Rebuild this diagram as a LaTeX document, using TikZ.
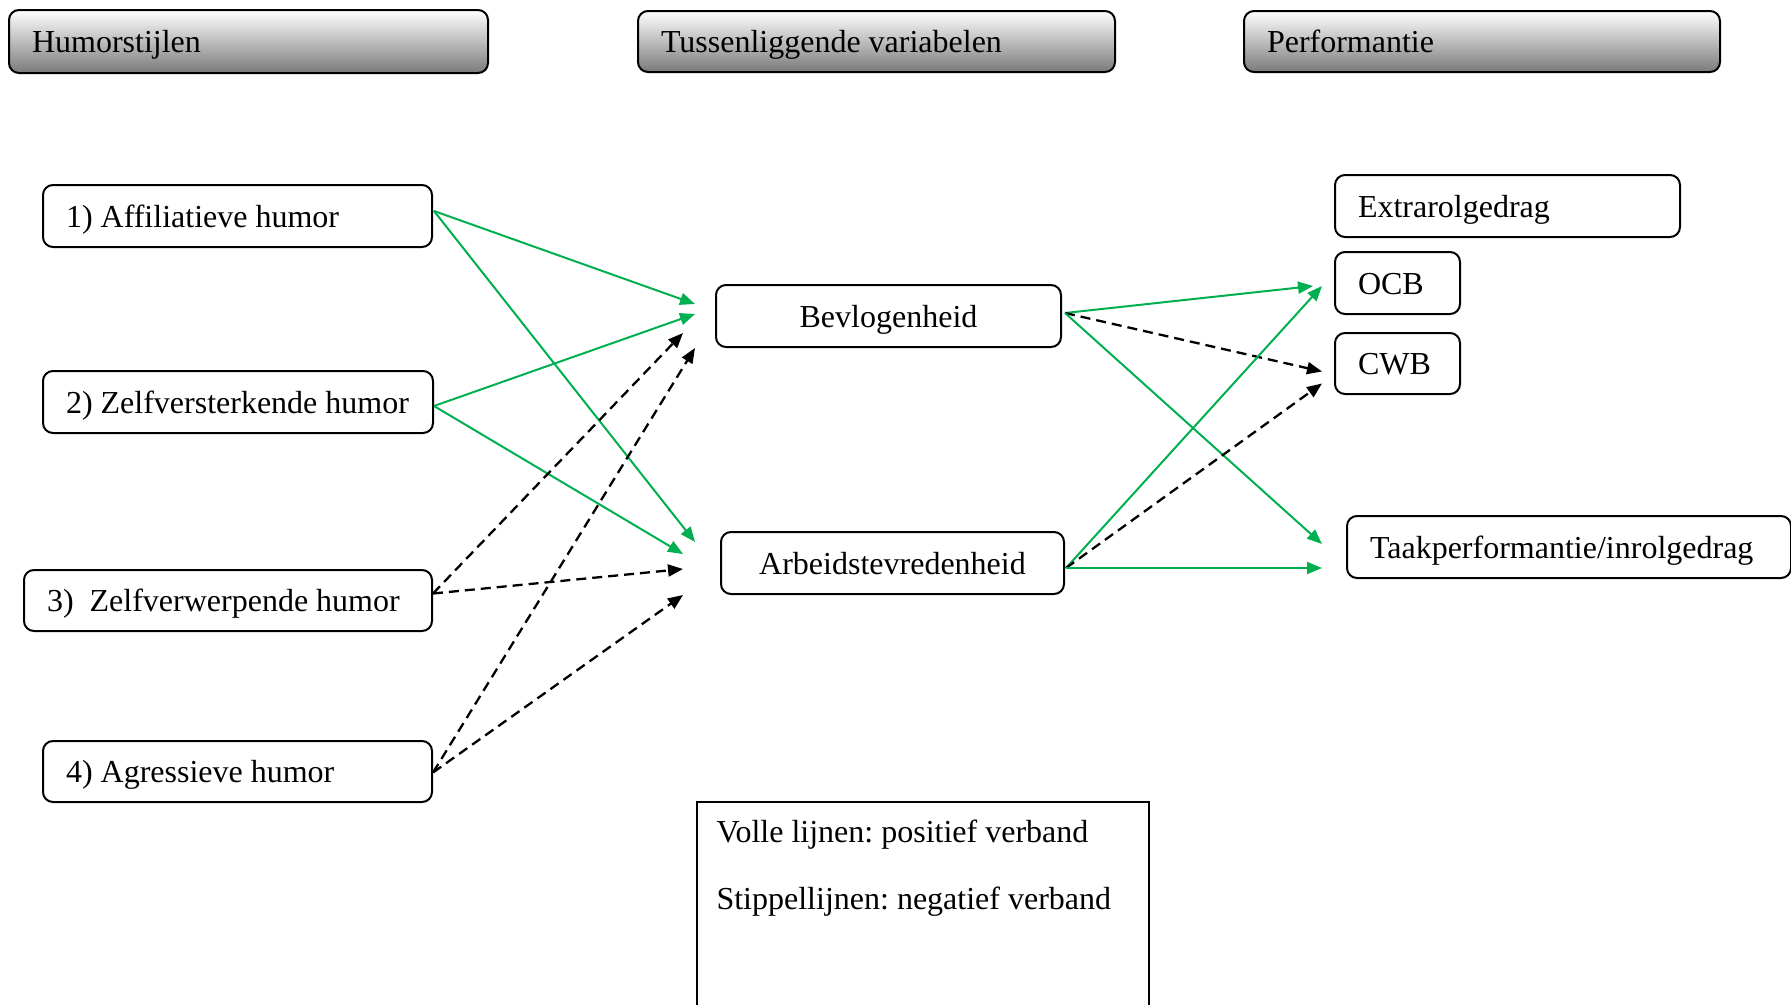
\documentclass[tikz,border=0pt]{standalone}
\usepackage{fontspec}
\setmainfont{Liberation Serif}
\usetikzlibrary{arrows.meta,calc}
\definecolor{posgreen}{HTML}{00B050}
\newcommand\diagfont{\fontsize{32}{38}\selectfont\frenchspacing}
% box labels keep the font's own word spacing on one line
\newcommand\lbl[1]{\mbox{\spaceskip 0pt\xspaceskip 0pt\relax#1}}

\begin{document}
\begin{tikzpicture}[x=1pt,y=-1pt,
  font=\diagfont,
  box/.style={draw, line width=2pt, rounded corners=10pt, anchor=north west,
    inner xsep=23pt, inner ysep=0pt, text height=22pt, text depth=0pt, align=left},
  header/.style={box, top color=white, middle color=black!12, bottom color=black!52},
  legendbox/.style={draw, line width=2pt, anchor=north west, inner sep=0pt},
  posarrow/.style={draw=posgreen, line width=2pt, -{Triangle[length=15pt,width=12pt]}},
  negarrow/.style={draw=black, line width=2.3pt, dash pattern=on 10pt off 6pt,
    -{Triangle[length=15pt,width=12pt]}}
]
\useasboundingbox (0,0) rectangle (1791,1004);

% column headers
\node[header, text width=433pt, minimum height=63pt] (hH) at (8,9) {\lbl{Humorstijlen}};
\node[header, text width=431pt, minimum height=61pt] (hT) at (637,10) {\lbl{Tussenliggende variabelen}};
\node[header, text width=430pt, minimum height=61pt] (hP) at (1243,10) {\lbl{Performantie}};

% humour styles
\node[box, text width=343pt, minimum height=62pt] (aff) at (42,184) {\lbl{1) Affiliatieve humor}};
\node[box, text width=344pt, minimum height=62pt] (zv) at (42,370) {\lbl{2) Zelfversterkende humor}};
\node[box, text width=362pt, minimum height=61pt] (zw) at (23,569) {\lbl{3)\ \ Zelfverwerpende humor}};
\node[box, text width=343pt, minimum height=61pt] (ag) at (42,740) {\lbl{4) Agressieve humor}};

% mediating variables
\node[box, align=center, text width=299pt, minimum height=62pt] (bev) at (715,284) {\lbl{Bevlogenheid}};
\node[box, align=center, text width=297pt, minimum height=62pt] (arb) at (720,531) {\lbl{Arbeidstevredenheid}};

% performance outcomes
\node[box, text width=299pt, minimum height=62pt] (ext) at (1334,174) {\lbl{Extrarolgedrag}};
\node[box, text width=79pt, minimum height=62pt] (ocb) at (1334,251) {\lbl{OCB}};
\node[box, text width=79pt, minimum height=61pt] (cwb) at (1334,332) {\lbl{CWB}};
\node[box, text width=398pt, minimum height=62pt] (taak) at (1346,515) {\lbl{Taakperformantie/inrolgedrag}};

% legend
\node[legendbox, minimum width=452pt, minimum height=240pt] (legend) at (696,801) {};
\node[anchor=base west] (lpos) at (713,842) {Volle lijnen: positief verband};
\node[anchor=base west] (lneg) at (713,909) {Stippellijnen: negatief verband};

% humour styles -> mediators
\draw[posarrow] ([shift={(1,-5)}]aff.east) -- ([shift={(-20,-12)}]bev.west);
\draw[posarrow] ([shift={(1,-5)}]aff.east) -- ([shift={(-25,-21)}]arb.west);
\draw[posarrow] ([shift={(0,4)}]zv.east) -- ([shift={(-20,-2)}]bev.west);
\draw[posarrow] ([shift={(0,4)}]zv.east) -- ([shift={(-37,-9)}]arb.west);
\draw[negarrow] ([shift={(0,-7)}]zw.east) -- ([shift={(-32,17)}]bev.west);
\draw[negarrow] ([shift={(0,-7)}]zw.east) -- ([shift={(-37,6)}]arb.west);
\draw[negarrow] ([shift={(0,1)}]ag.east) -- ([shift={(-20,32)}]bev.west);
\draw[negarrow] ([shift={(0,1)}]ag.east) -- ([shift={(-37,32)}]arb.west);

% mediators -> performance
\draw[posarrow] ([shift={(3,-3)}]bev.east) -- ([shift={(-21,3)}]ocb.west);
\draw[negarrow] ([shift={(3,-3)}]bev.east) -- ([shift={(-12,8)}]cwb.west);
\draw[posarrow] ([shift={(3,-3)}]bev.east) -- ([shift={(-24,-3)}]taak.west);
\draw[posarrow] ([shift={(1,5)}]arb.east) -- ([shift={(-12,3)}]ocb.west);
\draw[negarrow] ([shift={(1,5)}]arb.east) -- ([shift={(-12,20)}]cwb.west);
\draw[posarrow] ([shift={(1,5)}]arb.east) -- ([shift={(-24,21)}]taak.west);

\end{tikzpicture}
\end{document}
